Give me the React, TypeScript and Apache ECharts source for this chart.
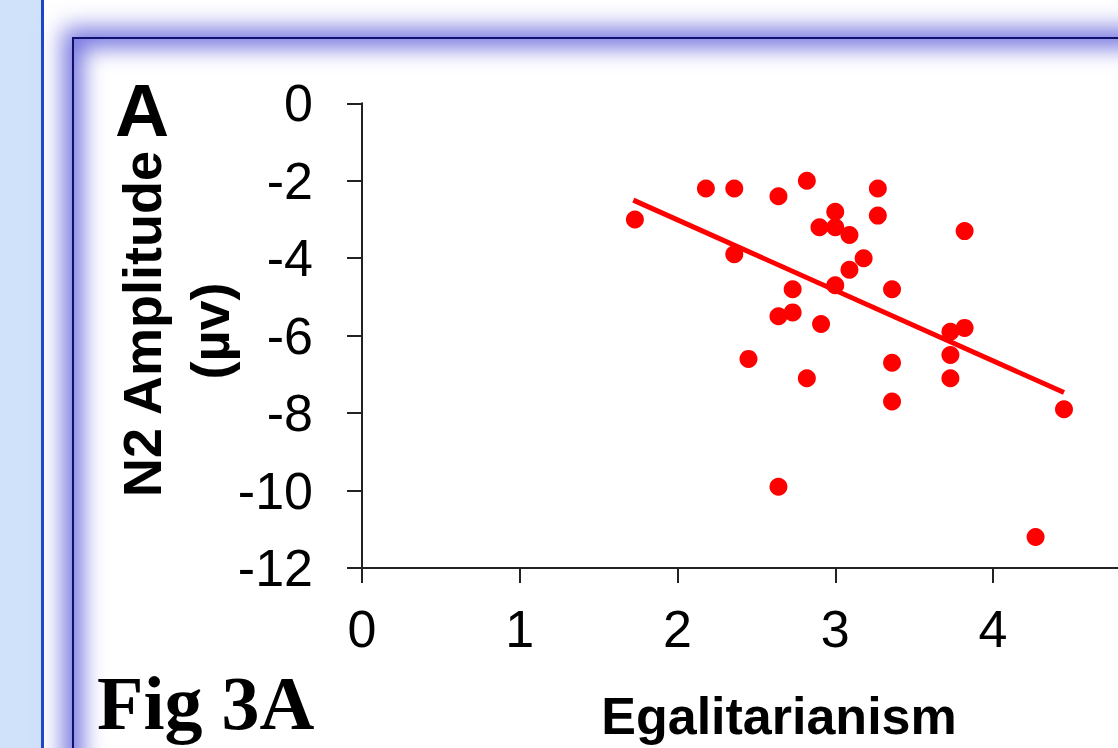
import React, { useEffect, useRef } from "react";
import * as echarts from "echarts";

const egalitarianism = [
  1.73, 2.18, 2.36, 2.64, 2.82, 3.27, 3.27, 3.0, 2.9, 3.0, 3.09, 3.82, 2.36, 3.18, 3.09, 3.0,
  2.73, 3.36, 2.64, 2.73, 2.91, 3.73, 3.82, 2.45, 3.36, 3.73, 2.82, 3.73, 3.36, 4.45, 4.27, 2.64,
];
const n2Amplitude = [
  -3.0, -2.2, -2.2, -2.4, -2.0, -2.2, -2.9, -2.8, -3.2, -3.2, -3.4, -3.3, -3.9, -4.0, -4.3, -4.7,
  -4.8, -4.8, -5.5, -5.4, -5.7, -5.9, -5.8, -6.6, -6.7, -6.5, -7.1, -7.1, -7.7, -7.9, -11.2, -9.9,
];
const trendX = [1.72, 4.45];
const trendY = [-2.5, -7.47];
const xTicks = [0, 1, 2, 3, 4, 5];
const yTicks = [0, -2, -4, -6, -8, -10, -12];

const SANS = "'Liberation Sans', Arial, sans-serif";
const SERIF = "'Liberation Serif', 'Times New Roman', serif";

export default function App() {
  const ref = useRef<HTMLDivElement>(null);

  useEffect(() => {
    if (!ref.current) return;
    const chart = echarts.init(ref.current, undefined, { renderer: "svg" });
    const points = egalitarianism.map((x, i) => [x, n2Amplitude[i]]);
    const trend = trendX.map((x, i) => [x, trendY[i]]);
    chart.setOption({
      animation: false,
      backgroundColor: "transparent",
      grid: {
        left: 362,
        top: 103.3,
        bottom: 180,
        width: 788.75,
        containLabel: false,
        outerBoundsMode: "none",
      },
      xAxis: {
        type: "value",
        min: xTicks[0],
        max: xTicks[xTicks.length - 1],
        interval: 1,
        axisLine: { show: true, onZero: false, lineStyle: { color: "#222", width: 2 } },
        axisTick: { show: true, inside: false, length: 15, lineStyle: { color: "#222", width: 2 } },
        axisLabel: { margin: 35, fontSize: 52, fontFamily: SANS, color: "#000", showMaxLabel: false },
        splitLine: { show: false },
      },
      yAxis: {
        type: "value",
        min: yTicks[yTicks.length - 1],
        max: yTicks[0],
        interval: 2,
        axisLine: { show: true, onZero: false, lineStyle: { color: "#222", width: 2 } },
        axisTick: { show: true, inside: false, length: 15, lineStyle: { color: "#222", width: 2 } },
        axisLabel: { margin: 49, fontSize: 52, fontFamily: SANS, color: "#000" },
        splitLine: { show: false },
      },
      series: [
        {
          type: "line",
          data: trend,
          showSymbol: false,
          symbol: "none",
          lineStyle: { color: "#ff0000", width: 5 },
          z: 2,
        },
        {
          type: "scatter",
          data: points,
          symbol: "circle",
          symbolSize: 18,
          itemStyle: { color: "#ff0000", opacity: 1 },
          z: 3,
        },
      ],
      graphic: [
        {
          type: "text",
          x: 142,
          y: 110,
          style: { text: "A", font: `bold 75px ${SANS}`, fill: "#000", align: "center", verticalAlign: "middle" },
        },
        {
          type: "text",
          x: 142,
          y: 324,
          rotation: Math.PI / 2,
          style: { text: "N2 Amplitude", font: `bold 54px ${SANS}`, fill: "#000", align: "center", verticalAlign: "middle" },
        },
        {
          type: "text",
          x: 210,
          y: 331,
          rotation: Math.PI / 2,
          style: { text: "(µv)", font: `bold 54px ${SANS}`, fill: "#000", align: "center", verticalAlign: "middle" },
        },
        {
          type: "text",
          x: 779,
          y: 716,
          style: { text: "Egalitarianism", font: `bold 52px ${SANS}`, fill: "#000", align: "center", verticalAlign: "middle" },
        },
        {
          type: "text",
          x: 97,
          y: 703,
          style: { text: "Fig 3A", font: `bold 76px ${SERIF}`, fill: "#000", align: "left", verticalAlign: "middle" },
        },
      ],
    });
    return () => chart.dispose();
  }, []);

  return (
    <div style={{ position: "fixed", left: 0, top: 0, width: 1118, height: 748, overflow: "hidden", background: "#fff" }}>
      <div style={{ position: "absolute", left: 0, top: 0, width: 41, height: 748, background: "#d0e2fa" }} />
      <div style={{ position: "absolute", left: 41, top: 0, width: 3, height: 748, background: "#1f44c4" }} />
      <div
        style={{
          position: "absolute",
          left: 72,
          top: 37,
          width: 1300,
          height: 900,
          border: "2px solid #10106e",
          boxShadow:
            "0 0 22px 9px rgba(120,120,225,1), inset 0 0 22px 9px rgba(120,120,225,1)",
        }}
      />
      <div ref={ref} style={{ position: "absolute", left: 0, top: 0, width: 1200, height: 748 }} />
    </div>
  );
}
